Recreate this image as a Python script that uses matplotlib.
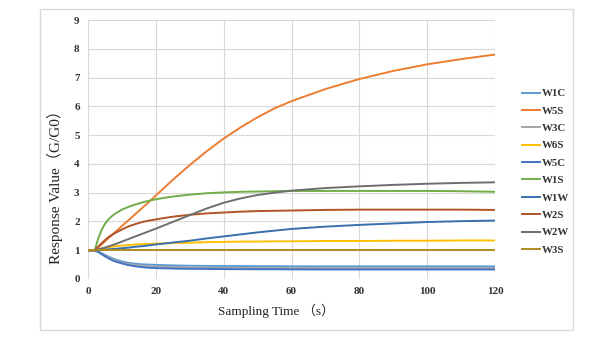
import numpy as np
import matplotlib.pyplot as plt
from matplotlib.patches import Rectangle

# sampling time (s)
t = [0, 1, 2, 3, 4, 5, 6, 7, 8, 10, 12, 14, 16, 18, 20, 23, 26, 30, 35, 40,
     45, 50, 55, 60, 70, 80, 90, 100, 110, 120]

# response G/G0 for each sensor
W1C = [1, 1, 1, 0.96, 0.9, 0.84, 0.78, 0.73, 0.68, 0.61, 0.56, 0.53, 0.51, 0.5, 0.49, 0.48, 0.47, 0.46, 0.455, 0.45,
       0.45, 0.445, 0.445, 0.44, 0.44, 0.44, 0.44, 0.44, 0.44, 0.44]
W5S = [1, 1, 1, 1.1, 1.2, 1.31, 1.42, 1.52, 1.63, 1.84, 2.05, 2.26, 2.47, 2.68, 2.9, 3.23, 3.55, 3.96, 4.44, 4.88,
       5.27, 5.62, 5.93, 6.18, 6.6, 6.95, 7.23, 7.46, 7.64, 7.8]
W3C = [1, 1, 1, 0.95, 0.88, 0.81, 0.75, 0.69, 0.64, 0.57, 0.52, 0.48, 0.46, 0.44, 0.43, 0.42, 0.41, 0.4, 0.395, 0.39,
       0.385, 0.38, 0.38, 0.38, 0.38, 0.38, 0.38, 0.38, 0.38, 0.38]
W6S = [1, 1, 1, 1.03, 1.06, 1.08, 1.1, 1.12, 1.14, 1.16, 1.18, 1.2, 1.21, 1.22, 1.23, 1.24, 1.25, 1.26, 1.28, 1.29,
       1.3, 1.3, 1.31, 1.31, 1.32, 1.32, 1.33, 1.33, 1.34, 1.34]
W5C = [1, 1, 0.99, 0.94, 0.86, 0.79, 0.72, 0.66, 0.61, 0.54, 0.48, 0.44, 0.41, 0.39, 0.38, 0.37, 0.36, 0.355, 0.35, 0.345,
       0.34, 0.34, 0.34, 0.335, 0.33, 0.33, 0.33, 0.33, 0.33, 0.33]
W1S = [1, 1, 1, 1.4, 1.7, 1.92, 2.07, 2.18, 2.27, 2.41, 2.51, 2.59, 2.66, 2.72, 2.77, 2.83, 2.88, 2.93, 2.98, 3.01,
       3.03, 3.04, 3.05, 3.06, 3.06, 3.06, 3.06, 3.06, 3.05, 3.03]
W1W = [1, 1, 1, 1.0, 1.01, 1.02, 1.03, 1.04, 1.05, 1.07, 1.09, 1.12, 1.14, 1.17, 1.2, 1.24, 1.28, 1.33, 1.41, 1.48,
       1.55, 1.62, 1.68, 1.74, 1.82, 1.88, 1.93, 1.98, 2.01, 2.03]
W2S = [1, 1, 1, 1.12, 1.24, 1.35, 1.45, 1.53, 1.6, 1.72, 1.83, 1.91, 1.98, 2.03, 2.07, 2.13, 2.18, 2.23, 2.28, 2.31,
       2.34, 2.36, 2.37, 2.38, 2.4, 2.41, 2.41, 2.41, 2.41, 2.4]
W2W = [1, 1, 1, 1.03, 1.06, 1.09, 1.13, 1.17, 1.21, 1.3, 1.39, 1.48, 1.57, 1.66, 1.75, 1.89, 2.03, 2.22, 2.45, 2.65,
       2.8, 2.92, 3.0, 3.07, 3.16, 3.22, 3.27, 3.31, 3.34, 3.36]
W3S = [1.0] * len(t)

names = ['W1C', 'W5S', 'W3C', 'W6S', 'W5C', 'W1S', 'W1W', 'W2S', 'W2W', 'W3S']
series = [W1C, W5S, W3C, W6S, W5C, W1S, W1W, W2S, W2W, W3S]
colors = ['#5B9BD5', '#ED7D31', '#A5A5A5', '#FFC000', '#4472C4',
          '#70AD47', '#3A6FAE', '#B0552A', '#6E6E6E', '#B08B22']

serif = ['Liberation Serif', 'Noto Sans CJK SC']

fig = plt.figure(figsize=(6.05, 3.46), dpi=100)
ax = fig.add_axes([88/605, 1-279/346, (495-88)/605, (279-20)/346])

for name, y, c in zip(names, series, colors):
    ax.plot(t, y, color=c, lw=1.4, label=name)

ax.set_xlim(0, 120)
ax.set_ylim(0, 9)
ax.set_xticks(np.arange(0, 121, 20))
ax.set_yticks(np.arange(0, 10, 1))
ax.grid(True, color='#D9D9D9', lw=0.8)
ax.set_axisbelow(True)
for s in ax.spines.values():
    s.set_visible(False)
ax.tick_params(length=0, pad=6)
for lab in ax.get_xticklabels() + ax.get_yticklabels():
    lab.set_fontfamily('Liberation Serif')
    lab.set_fontweight('bold')
    lab.set_fontsize(8)
    lab.set_color('#333333')

leg = fig.legend(loc='upper left', bbox_to_anchor=(512/605, 1-79/346), frameon=False,
                 handlelength=1.7, handletextpad=0.15, labelspacing=0.72,
                 prop={'family': 'Liberation Serif', 'weight': 'bold', 'size': 7.8})
for txt in leg.get_texts():
    txt.set_color('#333333')

fig.text(276/605, 1-311/346, 'Sampling Time （s）', family=serif, fontsize=9.5,
         ha='center', va='center', color='#222222')
fig.text(55/605, 1-183/346, 'Response Value（G/G0）', family=serif, fontsize=11,
         rotation=90, ha='center', va='center', color='#222222',
         bbox=dict(facecolor='white', edgecolor='none', pad=1))

# outer chart border
fig.patches.append(Rectangle((40/605, 1-330/346), (573-40)/605, (330-9)/346,
                             transform=fig.transFigure, fill=False,
                             edgecolor='#D9D9D9', lw=1, zorder=0))

fig.savefig('out.png', dpi=100)
